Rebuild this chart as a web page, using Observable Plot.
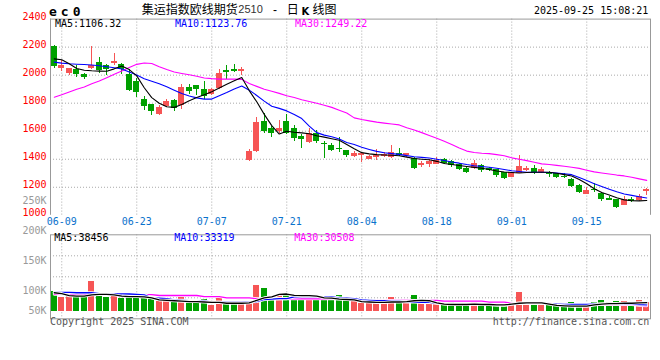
<!DOCTYPE html>
<html><head><meta charset="utf-8">
<script src="https://cdn.jsdelivr.net/npm/d3@7"></script>
<script src="https://cdn.jsdelivr.net/npm/@observablehq/plot@0.6"></script>
<style>
body{margin:0;background:#fff}
#wrap{position:relative;width:660px;height:360px;overflow:hidden;background:#fff}
.t{position:absolute;white-space:nowrap;line-height:1}
</style></head><body><div id="wrap"></div>
<script>
const dates = ["06-06","06-09","06-10","06-11","06-12","06-13","06-16","06-17","06-18","06-19","06-20","06-23","06-24","06-25","06-26","06-27","06-30",
"07-01","07-02","07-03","07-04","07-07","07-08","07-09","07-10","07-11","07-14","07-15","07-16","07-17","07-18","07-21","07-22","07-23","07-24","07-25","07-28","07-29","07-30","07-31",
"08-01","08-04","08-05","08-06","08-07","08-08","08-11","08-12","08-13","08-14","08-15","08-18","08-19","08-20","08-21","08-22","08-25","08-26","08-27","08-28","08-29",
"09-01","09-02","09-03","09-04","09-05","09-08","09-09","09-10","09-11","09-12","09-15","09-16","09-17","09-18","09-19","09-22","09-23","09-24","09-25"];

const open = [2201,2050,2014,2043,2002,2047,2090,2069,2080,2076,
 2002,1954,1829,1789,1717,1774,1817,1786,1912,1924,
 1895,1865,1905,2031,2040,2026,1390,1456,1668,1618,
 1599,1668,1618,1561,1518,1587,1511,1497,1477,1461,
 1423,1426,1399,1409,1423,1409,1443,1428,1406,1354,
 1359,1366,1396,1383,1362,1335,1331,1355,1335,1324,
 1302,1271,1300,1317,1335,1302,1307,1295,1280,1255,
 1212,1150,1186,1155,1121,1110,1072,1112,1105,1167];
const high = [2210,2102,2050,2066,2014,2208,2123,2076,2152,2083,
 2038,1976,1850,1793,1781,1829,1824,1931,1936,1928,
 1952,1905,2043,2071,2079,2054,1473,1698,1727,1632,
 1675,1722,1641,1580,1616,1608,1525,1513,1558,1465,
 1454,1449,1430,1473,1445,1497,1480,1442,1413,1381,
 1397,1413,1406,1390,1368,1342,1392,1362,1340,1328,
 1305,1305,1426,1347,1354,1340,1312,1300,1295,1264,
 1219,1200,1226,1164,1136,1112,1135,1130,1145,1193];
const low = [2050,2023,2000,1981,1966,2040,2014,1995,2071,2007,
 1883,1841,1746,1710,1712,1770,1741,1758,1865,1857,
 1829,1857,1900,1971,2019,1997,1383,1450,1584,1556,
 1584,1580,1527,1477,1512,1509,1404,1454,1447,1409,
 1413,1378,1395,1390,1415,1402,1420,1409,1324,1342,
 1342,1362,1361,1342,1319,1300,1324,1307,1316,1271,
 1255,1268,1295,1312,1288,1300,1271,1260,1264,1200,
 1155,1148,1164,1098,1104,1050,1070,1090,1095,1141];
const close = [2059,2071,2045,2004,1981,2071,2033,2040,2095,2043,
 1893,1876,1776,1744,1769,1810,1762,1912,1883,1895,
 1848,1895,2011,2019,2028,2040,1455,1660,1596,1584,
 1618,1584,1549,1539,1587,1527,1502,1461,1468,1426,
 1438,1438,1421,1430,1431,1445,1424,1438,1335,1373,
 1381,1388,1372,1352,1326,1307,1369,1319,1321,1283,
 1264,1302,1347,1335,1302,1326,1288,1271,1272,1207,
 1162,1176,1176,1110,1107,1058,1110,1100,1134,1186];

const ma5 = [2116,2110,2082,2048,2035,2031,2029,2028,2045,2065,
 2040,1995,1910,1840,1800,1775,1770,1790,1818,1840,
 1860,1882,1908,1935,1960,1983,1890,1810,1720,1640,
 1580,1600,1593,1588,1582,1568,1558,1546,1535,1505,
 1475,1447,1438,1433,1430,1428,1425,1415,1405,1400,
 1396,1385,1370,1362,1355,1348,1342,1336,1327,1316,
 1309,1305,1302,1305,1307,1307,1307,1300,1290,1280,
 1255,1225,1190,1162,1145,1125,1110,1104,1103,1106];
const ma10 = [2093,2086,2081,2078,2076,2073,2067,2060,2053,2044,
 2022,2001,1974,1956,1938,1918,1893,1869,1851,1838,
 1829,1829,1853,1876,1902,1922,1893,1855,1815,1778,
 1763,1745,1720,1690,1636,1590,1572,1560,1545,1520,
 1505,1485,1470,1456,1446,1440,1435,1426,1418,1413,
 1409,1400,1391,1380,1372,1362,1354,1348,1343,1336,
 1327,1318,1312,1307,1307,1307,1305,1302,1296,1290,
 1270,1248,1225,1205,1186,1168,1152,1142,1132,1124];
const ma30 = [1843,1860,1880,1900,1915,1938,1958,1982,2006,2030,
 2055,2077,2087,2083,2060,2040,2022,2012,2003,1992,
 1980,1975,1972,1972,1972,1970,1940,1920,1900,1885,
 1870,1853,1840,1825,1812,1800,1785,1770,1750,1730,
 1695,1683,1674,1665,1658,1652,1645,1625,1608,1590,
 1570,1550,1528,1505,1480,1458,1448,1443,1440,1433,
 1425,1410,1400,1390,1378,1367,1362,1356,1350,1343,
 1335,1322,1310,1302,1295,1287,1281,1272,1260,1249];

// volume, thousands of lots
const volume = [65,51,54,51,50,89,55,51,60,49,
 60,60,60,50,42,42,39,58,44,37,
 46,32,53,36,37,36,36,80,73,53,
 58,60,56,50,56,44,50,51,56,46,
 42,37,37,39,36,50,44,41,56,41,
 37,37,37,39,36,34,41,34,34,32,
 31,37,63,36,36,36,32,36,30,40,
 36,32,40,44,40,41,42,34,44,40];
const volMa5 = [62,60,55,54,54,57,58,58,57,54,
 53,53,52,50,45,44,43,42,41,41,
 40,39,39,37,37,37,38,44,50,52,
 58,59,56,55,55,54,50,49,47,46,
 45,41,40,39,39,40,40,41,43,44,
 43,38,35,34,34,34,35,34,34,33,
 33,35,37,38,38,38,35,32,31,30,
 30,30,33,35,36,36,37,37,38,38.5];
const volMa10 = [63,63,63,62,62,62,60,60,59,59,
 59,58,57,50,49,48,45,44,43,43,
 42,40,40,39,39,39,40,41,46,47,
 48,48,52,53,53,53,53,52,50,49,
 48,45,44,43,43,42,42,40,40,39,
 39,37,36,36,35,35,35,35,34,33,
 32,35,37,37,37,37,36,35,34,34,
 34,34,35,35,36,36,35,35,34,33.3];
const volMa30 = [58.5,58.4,58.3,58.2,58.1,58,58,58,58,57.9,57.8,57.7,57.6,57.5,
 55.5,55.5,55.5,55.5,55.5,55.5,
 53,53,53,
 50,50,50,50,
 47.6,47.6,47.6,47.6,47.6,47.6,47.6,47.6,47.6,47.6,47.6,47.6,47.6,47.6,
 43.6,43.6,43.6,43.6,43.6,43.6,43.6,43.6,43.6,43.6,43.6,
 42,42,42,42,42,42,
 39.5,39.5,39.5,
 37,37,37,37,37,37,
 34,34,34,34,34,34,34,34,34,34,34,
 32,31];
const volBase = 18;

const priceTicks = [1000,1200,1400,1600,1800,2000,2200,2400];
const dateTicks = ["06-09","06-23","07-07","07-21","08-04","08-18","09-01","09-15"];
const volGridTicks = [50,100,150];
const volLabelTicks = [250,200,150,100,50];

const symbol = "ec0";
const titleParts = {name: "集运指数欧线期货", code: "2510", kind1: "日", kind2: "K", kind3: "线图"};
const stamp = "2025-09-25 15:08:21";
const priceMaLabels = ["MA5:1106.32","MA10:1123.76","MA30:1249.22"];
const volMaLabels = ["MA5:38456","MA10:33319","MA30:30508"];
const maColors = ["#000000","#0000ff","#ff00ff"];
const copyright = "Copyright 2025 SINA.COM";
const url = "http://finance.sina.com.cn";

const UP = "#f65555", DOWN = "#00a000";
const mono = "DejaVu Sans Mono, monospace";
const N = dates.length;
const rows = dates.map((date, i) => ({
  i, date, open: open[i], high: high[i], low: low[i], close: close[i],
  ma5: ma5[i], ma10: ma10[i], ma30: ma30[i],
  vol: volume[i], vma5: volMa5[i], vma10: volMa10[i], vma30: volMa30[i],
  col: close[i] >= open[i] ? UP : DOWN
}));
const tickPos = dateTicks.map(d => dates.indexOf(d) + 0.5);
const dotted = {stroke: "#aaa", strokeOpacity: 1, strokeDasharray: "1,2"};
const xc = d => d.i + 0.5;

const wrap = document.getElementById("wrap");

const main = Plot.plot({
  width: 660, height: 230,
  marginLeft: 50, marginRight: 10, marginTop: 18.6, marginBottom: 15.2,
  x: {domain: [0, N], axis: null},
  y: {domain: [1000, 2400], axis: null},
  color: {type: "identity"},
  style: {fontFamily: mono, fontSize: "10px", background: "transparent", overflow: "visible"},
  marks: [
    Plot.gridY(priceTicks.slice(1, -1), dotted),
    Plot.gridX(tickPos, dotted),
    Plot.ruleX([0, N], {stroke: "#999"}),
    Plot.ruleY([2400], {stroke: "#999"}),
    Plot.ruleX(rows, {x: xc, y1: "low", y2: "high", stroke: "col", shapeRendering: "crispEdges"}),
    Plot.rect(rows, {x1: d => d.i + 0.12, x2: d => d.i + 0.88, y1: "open", y2: "close", fill: "col", shapeRendering: "crispEdges"}),
    Plot.line(rows, {x: xc, y: "ma30", stroke: maColors[2], strokeWidth: 1.1}),
    Plot.line(rows, {x: xc, y: "ma10", stroke: maColors[1], strokeWidth: 1.1}),
    Plot.line(rows, {x: xc, y: "ma5", stroke: maColors[0], strokeWidth: 1.1}),
    Plot.axisY({ticks: priceTicks, tickFormat: d => String(d), tickSize: 0, tickPadding: 4, color: "#ff0000", fill: "#ff0000", dy: -2.5, label: null, fontFamily: mono, fontSize: 10}),
    Plot.axisX({ticks: tickPos, tickFormat: v => dates[Math.floor(v)], tickSize: 0, tickPadding: 2.5, color: "#0a72cc", fill: "#0a72cc", label: null, fontFamily: mono, fontSize: 10})
  ]
});
main.style.position = "absolute"; main.style.left = "0px"; main.style.top = "0px";
wrap.append(main);

const vol = Plot.plot({
  width: 660, height: 130,
  marginLeft: 50, marginRight: 10, marginTop: 4.3, marginBottom: 41.7,
  x: {domain: [0, N], axis: null},
  y: {domain: [0, 200], axis: null},
  color: {type: "identity"},
  style: {fontFamily: mono, fontSize: "10px", background: "transparent", overflow: "visible"},
  marks: [
    Plot.gridY(volGridTicks, dotted),
    Plot.gridX(tickPos, dotted),
    Plot.rect(rows, {x1: d => d.i + 0.12, x2: d => d.i + 0.88, y1: () => volBase, y2: "vol", fill: "col", shapeRendering: "crispEdges"}),
    Plot.line(rows, {x: xc, y: "vma30", stroke: "#fff", strokeWidth: 3}),
    Plot.line(rows, {x: xc, y: "vma30", stroke: maColors[2], strokeWidth: 1.3}),
    Plot.line(rows, {x: xc, y: "vma10", stroke: "#fff", strokeWidth: 3}),
    Plot.line(rows, {x: xc, y: "vma10", stroke: maColors[1], strokeWidth: 1.3}),
    Plot.line(rows, {x: xc, y: "vma5", stroke: "#fff", strokeWidth: 3}),
    Plot.line(rows, {x: xc, y: "vma5", stroke: maColors[0], strokeWidth: 1.3}),
    Plot.frame({stroke: "#999"})
  ]
});
vol.style.position = "absolute"; vol.style.left = "0px"; vol.style.top = "230px";
wrap.append(vol);

// volume axis labels (own scale, lowest label held at the panel bottom)
const vlab = Plot.plot({
  width: 660, height: 360, margin: 0,
  y: {domain: [66.4, 250], range: [310, 200.7], clamp: true, axis: null},
  style: {fontFamily: mono, fontSize: "10px", background: "transparent", overflow: "visible"},
  marks: [
    Plot.text(volLabelTicks, {y: d => d, text: d => d + "K", frameAnchor: "left", dx: 46, textAnchor: "end", fill: "#999", fontFamily: mono, fontSize: 10})
  ]
});
vlab.style.position = "absolute"; vlab.style.left = "0px"; vlab.style.top = "0px";
wrap.append(vlab);

function txt(s, css) {
  const d = document.createElement("div");
  d.className = "t";
  d.textContent = s;
  Object.assign(d.style, css);
  wrap.append(d);
  return d;
}
const cjk = '"Noto Sans CJK SC", sans-serif';
txt(symbol, {left: "49px", top: "5.2px", fontFamily: mono, fontWeight: "bold", fontSize: "13px", letterSpacing: "4px", color: "#000"});
txt(titleParts.name, {left: "141.7px", top: "2.6px", fontFamily: cjk, fontSize: "12px", color: "#000"});
txt(titleParts.code, {left: "238.3px", top: "3.8px", fontFamily: '"Liberation Sans", sans-serif', fontSize: "11px", color: "#333"});
txt("-", {left: "273px", top: "3.5px", fontFamily: '"Liberation Sans", sans-serif', fontSize: "12px", color: "#000"});
txt(titleParts.kind1, {left: "286.7px", top: "2.6px", fontFamily: cjk, fontSize: "12px", color: "#000"});
txt(titleParts.kind2, {left: "301.5px", top: "6.8px", fontFamily: '"DejaVu Sans", sans-serif', fontWeight: "bold", fontSize: "10px", color: "#000"});
txt(titleParts.kind3, {left: "312.5px", top: "2.6px", fontFamily: cjk, fontSize: "12px", color: "#000"});
txt(stamp, {right: "11.7px", top: "6.4px", fontFamily: mono, fontSize: "10px", color: "#000"});
const maX = [55, 175, 295];
priceMaLabels.forEach((s, k) => txt(s, {left: maX[k] + "px", top: "18.9px", fontFamily: mono, fontSize: "10px", color: maColors[k]}));
volMaLabels.forEach((s, k) => txt(s, {left: (maX[k] - 0.7) + "px", top: "233.2px", fontFamily: mono, fontSize: "10px", color: maColors[k]}));
txt(copyright, {left: "50px", top: "317px", fontFamily: mono, fontSize: "10px", color: "#555"});
txt(url, {right: "10.7px", top: "317px", fontFamily: mono, fontSize: "10px", color: "#555"});
</script></body></html>
